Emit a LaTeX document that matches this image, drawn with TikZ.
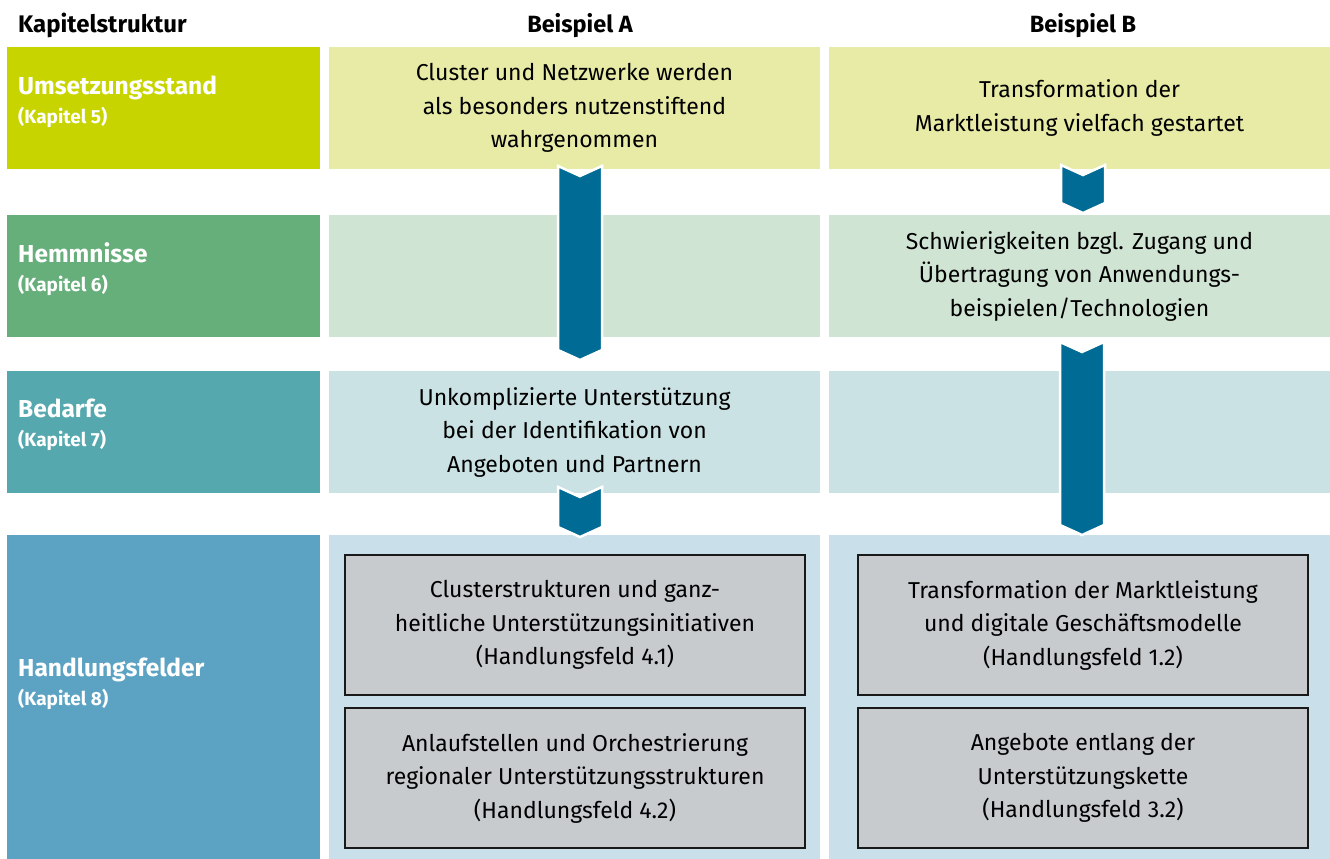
\documentclass[tikz,border=0pt]{standalone}
\usepackage{fontspec}
\setmainfont{Fira Sans}
\usetikzlibrary{positioning}

\definecolor{limecol}{HTML}{C8D400}
\definecolor{greencol}{HTML}{66AE7A}
\definecolor{tealcol}{HTML}{55A8AD}
\definecolor{bluecol}{HTML}{5CA3C3}
\definecolor{limelight}{HTML}{E8EBA6}
\definecolor{greenlight}{HTML}{D0E4D4}
\definecolor{teallight}{HTML}{CBE2E4}
\definecolor{bluelight}{HTML}{C9E0EA}
\definecolor{fieldgray}{HTML}{C8CBCE}
\definecolor{arrowblue}{HTML}{006B95}

% chevron arrow: centre x, top y, y where the sides end
\newcommand{\chevron}[3]{%
  \filldraw[arrowstyle] ({#1-22},#2) -- (#1,{#2+10}) -- ({#1+22},#2)
    -- ({#1+22},#3) -- (#1,{#3+10}) -- ({#1-22},#3) -- cycle;}

\begin{document}
\begin{tikzpicture}
[x=1pt, y=-1pt,
 chapter/.style={rectangle, inner sep=0pt, minimum width=313pt},
 cellA/.style={rectangle, inner sep=0pt, minimum width=491pt, align=center,
   font=\fontsize{23}{33.5}\selectfont},
 cellB/.style={rectangle, inner sep=0pt, minimum width=501pt, align=center,
   font=\fontsize{23}{33.5}\selectfont},
 field/.style={rectangle, inner sep=0pt, fill=fieldgray, draw=black!90, line width=2.5pt,
   minimum height=140pt, align=center, font=\fontsize{23}{33.5}\selectfont},
 chaptext/.style={anchor=north west, align=left, text=white, inner sep=0pt,
   font=\fontsize{24.5}{30}\bfseries},
 head/.style={anchor=base, inner sep=0pt, font=\fontsize{23.5}{26}\selectfont\bfseries},
 arrowstyle/.style={fill=arrowblue, draw=white, line width=2.5pt}]
    \useasboundingbox (0,0) rectangle (1330,859);
    % headings
    \node[head, anchor=base west, font=\fontsize{24}{26}\selectfont\bfseries](kapitel) at (18,33) {Kapitelstruktur};
    \node[head](beispielA) at (580,33) {Beispiel A};
    \node[head](beispielB) at (1083,33) {Beispiel B};
    % chapter column
    \node[chapter, fill=limecol, minimum height=122pt](umsetz) at (163.5,108) {};
    \node[chapter, fill=greencol, minimum height=122pt](hemm) at (163.5,276) {};
    \node[chapter, fill=tealcol, minimum height=122pt](bedarf) at (163.5,432) {};
    \node[chapter, fill=bluecol, minimum height=324pt](handl) at (163.5,697) {};
    \node[chaptext](umsetztext) at (18,76) {Umsetzungsstand\\[-1pt]{\fontsize{19}{22}\selectfont(Kapitel 5)}};
    \node[chaptext](hemmtext) at (18,242) {Hemmnisse\\[-1pt]{\fontsize{19}{22}\selectfont(Kapitel 6)}};
    \node[chaptext](bedarftext) at (18,399) {Bedarfe\\[-1pt]{\fontsize{19}{22}\selectfont(Kapitel 7)}};
    \node[chaptext](handltext) at (18,658) {Handlungsfelder\\[-1pt]{\fontsize{19}{22}\selectfont(Kapitel 8)}};
    % example A
    \node[cellA, fill=limelight, minimum height=122pt](a1) at (574.5,108)
      {Cluster und Netzwerke werden\\als besonders nutzenstiftend\\wahrgenommen};
    \node[cellA, fill=greenlight, minimum height=122pt](a2) at (574.5,276) {};
    \node[cellA, fill=teallight, minimum height=122pt](a3) at (574.5,432)
      {Unkomplizierte Unterstützung\\bei der Identifikation von\\Angeboten und Partnern};
    \node[cellA, fill=bluelight, minimum height=324pt](a4) at (574.5,697) {};
    % example B
    \node[cellB, fill=limelight, minimum height=122pt](b1) at (1079.5,108)
      {Transformation der\\Marktleistung vielfach gestartet};
    \node[cellB, fill=greenlight, minimum height=122pt](b2) at (1079.5,276)
      {Schwierigkeiten bzgl. Zugang und\\Übertragung von Anwendungs-\\beispielen/Technologien};
    \node[cellB, fill=teallight, minimum height=122pt](b3) at (1079.5,432) {};
    \node[cellB, fill=bluelight, minimum height=324pt](b4) at (1079.5,697) {};
    % arrows
    \chevron{580}{166}{350}
    \chevron{580}{487}{527}
    \chevron{1083}{165}{203}
    \chevron{1082}{342}{525}
    % fields of action
    \node[field, minimum width=460pt](fa1) at (575,625)
      {Clusterstrukturen und ganz-\\heitliche Unterstützungsinitiativen\\(Handlungsfeld 4.1)};
    \node[field, minimum width=460pt](fa2) at (575,778)
      {Anlaufstellen und Orchestrierung\\regionaler Unterstützungsstrukturen\\(Handlungsfeld 4.2)};
    \node[field, minimum width=450pt](fb1) at (1083,625)
      {Transformation der Marktleistung\\und digitale Geschäftsmodelle\\(Handlungsfeld 1.2)};
    \node[field, minimum width=450pt](fb2) at (1083,778)
      {Angebote entlang der\\Unterstützungskette\\(Handlungsfeld 3.2)};
\end{tikzpicture}
\end{document}
